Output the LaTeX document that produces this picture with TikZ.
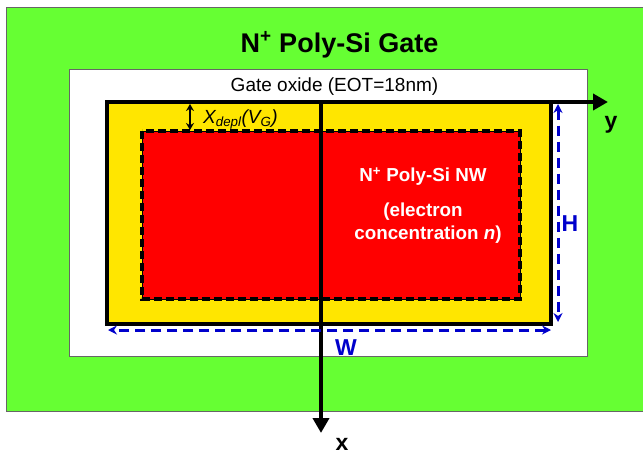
\documentclass[tikz,border=0pt]{standalone}
\usepackage{fontspec}
\setmainfont{Liberation Sans}
\usetikzlibrary{arrows.meta}
\definecolor{gategreen}{HTML}{66FF33}
\definecolor{nwyellow}{HTML}{FFE600}
\definecolor{nwred}{HTML}{FF0000}
\definecolor{dimblue}{HTML}{0000CC}
\tikzset{
  axisline/.style={line width=4.5pt,-{Triangle[length=15pt,width=16pt]}},
  dimline/.style={dimblue,line width=3pt,dash pattern=on 10pt off 6pt,{Stealth[length=9pt,width=9pt]}-{Stealth[length=9pt,width=9pt]}},
  lbl/.style={font=\fontsize{23}{26}\selectfont\bfseries,inner sep=0pt},
  nwtxt/.style={font=\fontsize{18.8}{21}\selectfont\bfseries,text=white,anchor=base,inner sep=0pt}
}
\begin{document}
\begin{tikzpicture}[x=1pt,y=-1pt]
\useasboundingbox (0,0) rectangle (643,455);
% gate
\fill[gategreen] (6,7) rectangle (643,411);
\draw[gray!80!black,line width=0.8pt] (643,7) -- (6,7) -- (6,411) -- (643,411);
% oxide
\draw[gray!80!black,line width=0.8pt,fill=white] (69,69) rectangle (587,356);
% depletion region
\draw[fill=nwyellow,line width=3.5pt] (107,102) rectangle (551,324);
% NW core
\fill[nwred] (142,131) rectangle (520,299);
\draw[line width=1pt] (142,131) rectangle (520,299);
\draw[line width=3.5pt,dash pattern=on 8pt off 4pt] (142,131) rectangle (520,299);
% coordinates
\coordinate (o) at (107,102);
\coordinate (ytip) at (608,102);
\coordinate (xs) at (321,102);
\coordinate (xtip) at (321,433);
\coordinate (h1) at (558,104);
\coordinate (h2) at (558,322);
\coordinate (w1) at (108,330);
\coordinate (w2) at (551,330);
\coordinate (d1) at (190,104);
\coordinate (d2) at (190,130);
% axes
\draw[axisline] (o) -- (ytip);
\draw[axisline] (xs) -- (xtip);
% dimensions
\draw[dimline] (h1) -- (h2);
\draw[dimline] (w2) -- (w1);
\draw[line width=1.8pt,{Stealth[length=7pt,width=8pt]}-{Stealth[length=7pt,width=8pt]}] (d1) -- (d2);
% labels
\node[font=\fontsize{27}{30}\selectfont\bfseries,anchor=base,inner sep=0pt] (title) at (339.5,52) {N\textsuperscript{+} Poly-Si Gate};
\node[font=\fontsize{19}{22}\selectfont,anchor=base,inner sep=0pt] (ox) at (334.5,91) {Gate oxide (EOT=18nm)};
\node[font=\fontsize{19}{22}\selectfont\itshape,anchor=base west,inner sep=0pt] (xd) at (203,123) {X\textsubscript{depl}(V\textsubscript{G})};
\node[nwtxt] (nwa) at (423,181.5) {N\textsuperscript{+} Poly-Si NW};
\node[nwtxt] (nwb) at (423,216.5) {(electron};
\node[nwtxt] (nwc) at (428,239) {concentration \textit{n})};
\node[lbl,text=dimblue,anchor=base] (hl) at (570,231) {H};
\node[lbl,text=dimblue,anchor=base] (wl) at (346,355) {W};
\node[lbl,anchor=base] (yl) at (611,128) {y};
\node[lbl,anchor=base] (xl) at (342,450) {x};
\end{tikzpicture}
\end{document}
